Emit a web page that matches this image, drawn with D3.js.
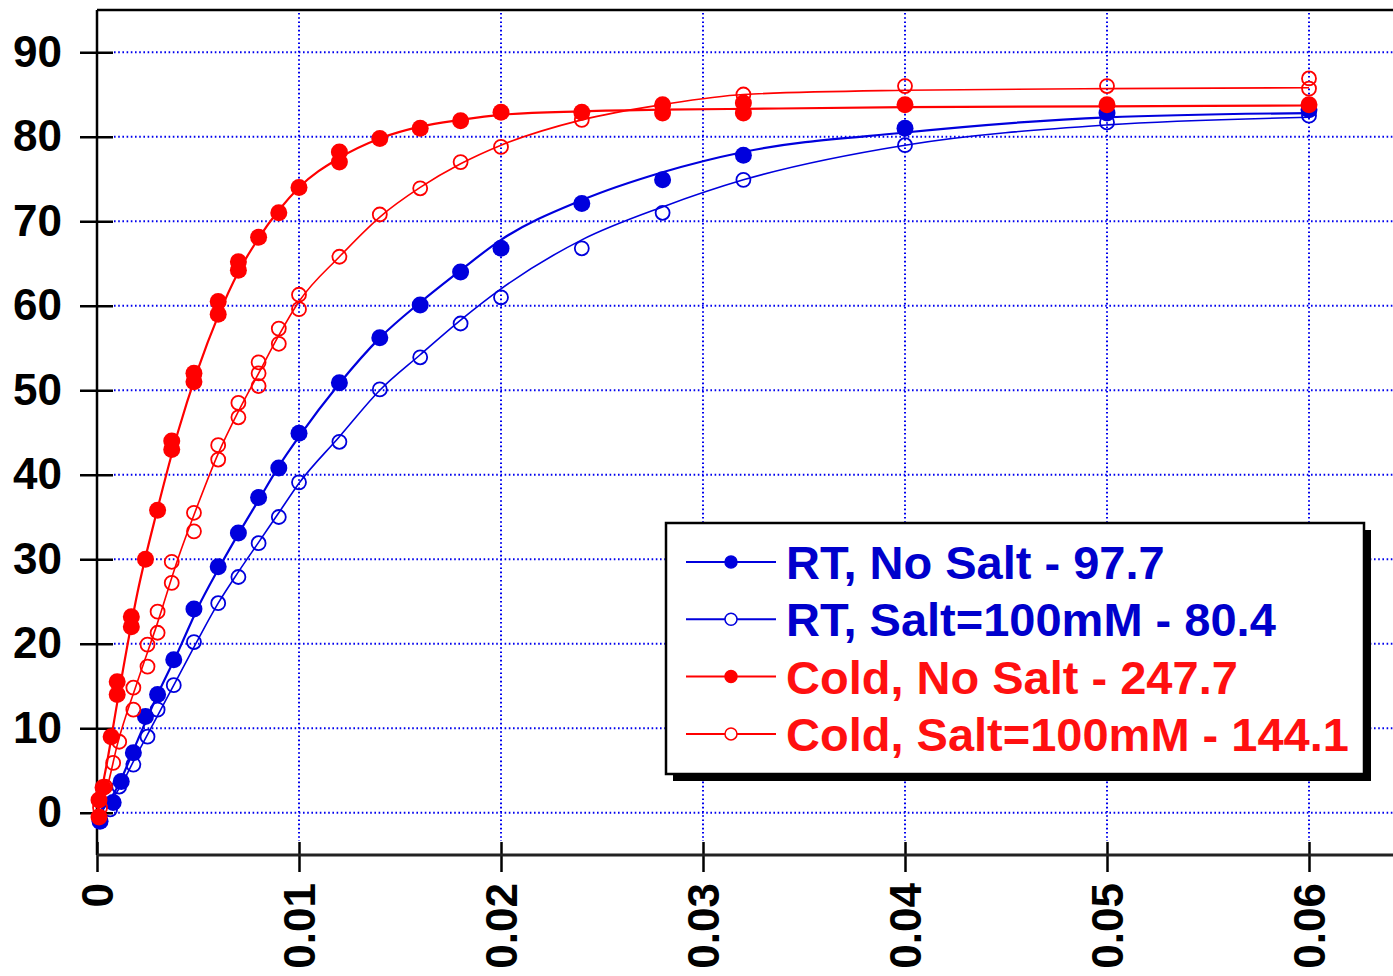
<!DOCTYPE html>
<html>
<head>
<meta charset="utf-8">
<script src="https://cdn.jsdelivr.net/npm/d3@7"></script>
<style>
  body { margin: 0; background: #fff; }
  svg { display: block; }
  text { font-family: "Liberation Sans", Arial, sans-serif; font-weight: bold; }
</style>
</head>
<body>
<svg width="1393" height="976"></svg>
<script>
// tick values
var xTicks = [0, 0.01, 0.02, 0.03, 0.04, 0.05, 0.06]
var yTicks = [0, 10, 20, 30, 40, 50, 60, 70, 80, 90]

// legend labels
var names = ['RT, No Salt - 97.7', 'RT, Salt=100mM - 80.4', 'Cold, No Salt - 247.7', 'Cold, Salt=100mM - 144.1']
var colors = ['#0000dd', '#0000dd', '#ff0000', '#ff0000']
var filled = [true, false, true, false]

// measured points [x, y]
var rtNoSalt = [
  [0.00015, -1], [0.0008, 1.2], [0.0012, 3.7], [0.0018, 7.1], [0.0024, 11.4], [0.003, 14],
  [0.0038, 18.1], [0.0048, 24.1], [0.006, 29.1], [0.007, 33.1], [0.008, 37.3], [0.009, 40.8],
  [0.01, 44.9], [0.012, 50.9], [0.014, 56.2], [0.016, 60.1], [0.018, 64], [0.02, 66.8],
  [0.024, 72.1], [0.028, 74.9], [0.032, 77.8], [0.04, 81], [0.05, 82.8], [0.06, 83.2]
]
var rtSalt = [
  [0.00065, 0.4], [0.0011, 3.1], [0.0018, 5.7], [0.0025, 9], [0.003, 12.2], [0.0038, 15.1],
  [0.0048, 20.2], [0.006, 24.8], [0.007, 27.9], [0.008, 31.9], [0.009, 35], [0.01, 39.1],
  [0.012, 43.9], [0.014, 50.1], [0.016, 53.9], [0.018, 57.9], [0.02, 61], [0.024, 66.8],
  [0.028, 71], [0.032, 74.9], [0.04, 79], [0.05, 81.7], [0.06, 82.5]
]
var coldNoSalt = [
  [0.0001, -0.5], [0.0001, 1.5], [0.0003, 3], [0.0007, 9], [0.001, 14], [0.001, 15.5],
  [0.0017, 22], [0.0017, 23.2], [0.0024, 30], [0.003, 35.8], [0.0037, 43], [0.0037, 44],
  [0.0048, 51], [0.0048, 52], [0.006, 59], [0.006, 60.5], [0.007, 64.2], [0.007, 65.2],
  [0.008, 68.1], [0.009, 71], [0.01, 74], [0.012, 77], [0.012, 78.2], [0.014, 79.8],
  [0.016, 81], [0.018, 81.9], [0.02, 82.9], [0.024, 82.9], [0.028, 82.8], [0.028, 83.8],
  [0.032, 82.8], [0.032, 84], [0.04, 83.8], [0.05, 83.8], [0.06, 83.8]
]
var coldSalt = [
  [0.00015, 0.6], [0.0004, 3.1], [0.0008, 5.9], [0.0011, 8.4], [0.0018, 12.2], [0.0018, 14.8],
  [0.0025, 17.3], [0.0025, 19.9], [0.003, 21.3], [0.003, 23.8], [0.0037, 27.2], [0.0037, 29.7],
  [0.0048, 33.3], [0.0048, 35.5], [0.006, 41.8], [0.006, 43.5], [0.007, 46.8], [0.007, 48.5],
  [0.008, 50.5], [0.008, 52], [0.008, 53.3], [0.009, 55.5], [0.009, 57.3], [0.01, 59.6],
  [0.01, 61.3], [0.012, 65.8], [0.014, 70.8], [0.016, 73.9], [0.018, 77], [0.02, 78.8],
  [0.024, 82], [0.028, 83.7], [0.032, 85], [0.04, 86], [0.05, 86], [0.06, 85.7], [0.06, 86.9]
]

// fitted curves
var rtNoSaltFit = [
  [0, -0.5], [0.001, 3], [0.002, 8.5], [0.003, 14], [0.004, 19], [0.005, 24.3], [0.006, 28.8],
  [0.007, 33], [0.008, 37], [0.009, 41], [0.01, 44.5], [0.012, 50.8], [0.014, 56.2], [0.016, 60.4],
  [0.018, 64.2], [0.02, 67.8], [0.024, 72.5], [0.028, 75.8], [0.032, 78.2], [0.04, 80.5],
  [0.05, 82.3], [0.06, 82.8]
]
var rtSaltFit = [
  [0, 0], [0.001, 2.5], [0.002, 7], [0.003, 11.5], [0.004, 16], [0.005, 20.5], [0.006, 24.8],
  [0.007, 28.5], [0.008, 32], [0.009, 35.5], [0.01, 39], [0.012, 44.5], [0.014, 50], [0.016, 54.2],
  [0.018, 58.3], [0.02, 62], [0.024, 67.8], [0.028, 71.7], [0.032, 74.9], [0.04, 79],
  [0.05, 81.4], [0.06, 82.3]
]
var coldNoSaltFit = [
  [0, 0], [0.0005, 6], [0.001, 13], [0.002, 26], [0.003, 36], [0.004, 45], [0.005, 52.5],
  [0.006, 58.8], [0.007, 64], [0.008, 68], [0.009, 71.3], [0.01, 74], [0.012, 77.5], [0.014, 79.8],
  [0.016, 81.2], [0.018, 82], [0.02, 82.6], [0.024, 83], [0.028, 83.2], [0.032, 83.3],
  [0.04, 83.5], [0.05, 83.6], [0.06, 83.7]
]
var coldSaltFit = [
  [0, 0], [0.0005, 3], [0.001, 8], [0.002, 15.5], [0.003, 22.5], [0.004, 30], [0.005, 36.5],
  [0.006, 42.5], [0.007, 47.5], [0.008, 52], [0.009, 56.5], [0.01, 60.5], [0.012, 65.8],
  [0.014, 70.5], [0.016, 74], [0.018, 76.8], [0.02, 79], [0.024, 82], [0.028, 83.8],
  [0.032, 85], [0.04, 85.5], [0.05, 85.7], [0.06, 85.8]
]

var points = [rtNoSalt, rtSalt, coldNoSalt, coldSalt]
var fits = [rtNoSaltFit, rtSaltFit, coldNoSaltFit, coldSaltFit]

var svg = d3.select('svg')
var W = 1393

var x = d3.scaleLinear().domain([0, 0.06]).range([97, 1309])
var y = d3.scaleLinear().domain([-5, 95]).range([855, 10])

var plotLeft = x(0), plotTop = y(95), plotBottom = y(-5)

// grid
svg.append('g').selectAll('line')
    .data(yTicks)
    .join('line')
    .attr('x1', plotLeft + 17)
    .attr('x2', W)
    .attr('y1', d => y(d))
    .attr('y2', d => y(d))
    .style('stroke', '#0000ee')
    .style('stroke-width', 2)
    .style('stroke-dasharray', '1.6 2.6')
svg.append('g').selectAll('line')
    .data(xTicks.slice(1))
    .join('line')
    .attr('x1', d => x(d))
    .attr('x2', d => x(d))
    .attr('y1', plotTop + 3)
    .attr('y2', plotBottom - 14)
    .style('stroke', '#0000ee')
    .style('stroke-width', 2)
    .style('stroke-dasharray', '1.6 2.6')

// axes
var yAxis = svg.append('g')
    .attr('transform', `translate(${plotLeft},0)`)
    .call(d3.axisLeft(y).tickValues(yTicks).tickSize(17).tickPadding(18).tickFormat(d3.format('d')))
yAxis.select('.domain').remove()
yAxis.selectAll('.tick line').attr('x1', 16).style('stroke', '#000').style('stroke-width', 2.5)
yAxis.selectAll('.tick text')
    .style('font-size', '44px')
    .style('fill', '#000')

var xAxis = svg.append('g')
    .attr('transform', `translate(0,${plotBottom})`)
    .call(d3.axisBottom(x).tickValues(xTicks).tickSize(17).tickFormat(d => d === 0 ? '0' : d3.format('.2f')(d)))
xAxis.select('.domain').remove()
xAxis.selectAll('.tick line').attr('y1', -13).style('stroke', '#000').style('stroke-width', 2.5)
xAxis.selectAll('.tick text')
    .attr('transform', 'rotate(-90)')
    .attr('x', -28)
    .attr('y', 0)
    .attr('dy', '0.36em')
    .style('text-anchor', 'end')
    .style('font-size', '44px')
    .style('fill', '#000')

// frame
svg.append('line').attr('x1', plotLeft).attr('x2', plotLeft).attr('y1', plotTop).attr('y2', plotBottom)
    .style('stroke', '#000').style('stroke-width', 2.5)
svg.append('line').attr('x1', plotLeft).attr('x2', W).attr('y1', plotTop).attr('y2', plotTop)
    .style('stroke', '#000').style('stroke-width', 2.5)
svg.append('line').attr('x1', plotLeft).attr('x2', W).attr('y1', plotBottom).attr('y2', plotBottom)
    .style('stroke', '#222').style('stroke-width', 3)

// fit curves
var line = d3.line()
    .x(d => x(d[0]))
    .y(d => y(d[1]))
    .curve(d3.curveMonotoneX)

fits.forEach((f, i) => {
    svg.append('path')
        .datum(f)
        .attr('d', line)
        .style('fill', 'none')
        .style('stroke', colors[i])
        .style('stroke-width', filled[i] ? 2.2 : 1.6)
})

// markers
points.forEach((p, i) => {
    svg.append('g').selectAll('circle')
        .data(p)
        .join('circle')
        .attr('cx', d => x(d[0]))
        .attr('cy', d => y(d[1]))
        .attr('r', filled[i] ? 8.5 : 7)
        .style('fill', filled[i] ? colors[i] : 'none')
        .style('stroke', colors[i])
        .style('stroke-width', filled[i] ? 0 : 1.8)
})

// legend
var lg = svg.append('g').attr('transform', 'translate(666,523)')
var lw = 698, lh = 251
lg.append('rect').attr('x', 7).attr('y', 7).attr('width', lw).attr('height', lh).style('fill', '#000')
lg.append('rect').attr('width', lw).attr('height', lh)
    .style('fill', '#fff').style('stroke', '#000').style('stroke-width', 2.5)

var textColors = ['#0000cc', '#0000cc', '#ff1010', '#ff1010']
names.forEach((n, i) => {
    var cy = 39 + i * 57.3
    lg.append('line').attr('x1', 20).attr('x2', 110).attr('y1', cy).attr('y2', cy)
        .style('stroke', colors[i]).style('stroke-width', 2)
    lg.append('circle').attr('cx', 65).attr('cy', cy).attr('r', 6)
        .style('fill', filled[i] ? colors[i] : '#fff')
        .style('stroke', colors[i]).style('stroke-width', 1.5)
    lg.append('text').attr('x', 120).attr('y', cy).attr('dy', '0.36em')
        .style('font-size', '47px')
        .style('fill', textColors[i])
        .text(n)
})
</script>
</body>
</html>
